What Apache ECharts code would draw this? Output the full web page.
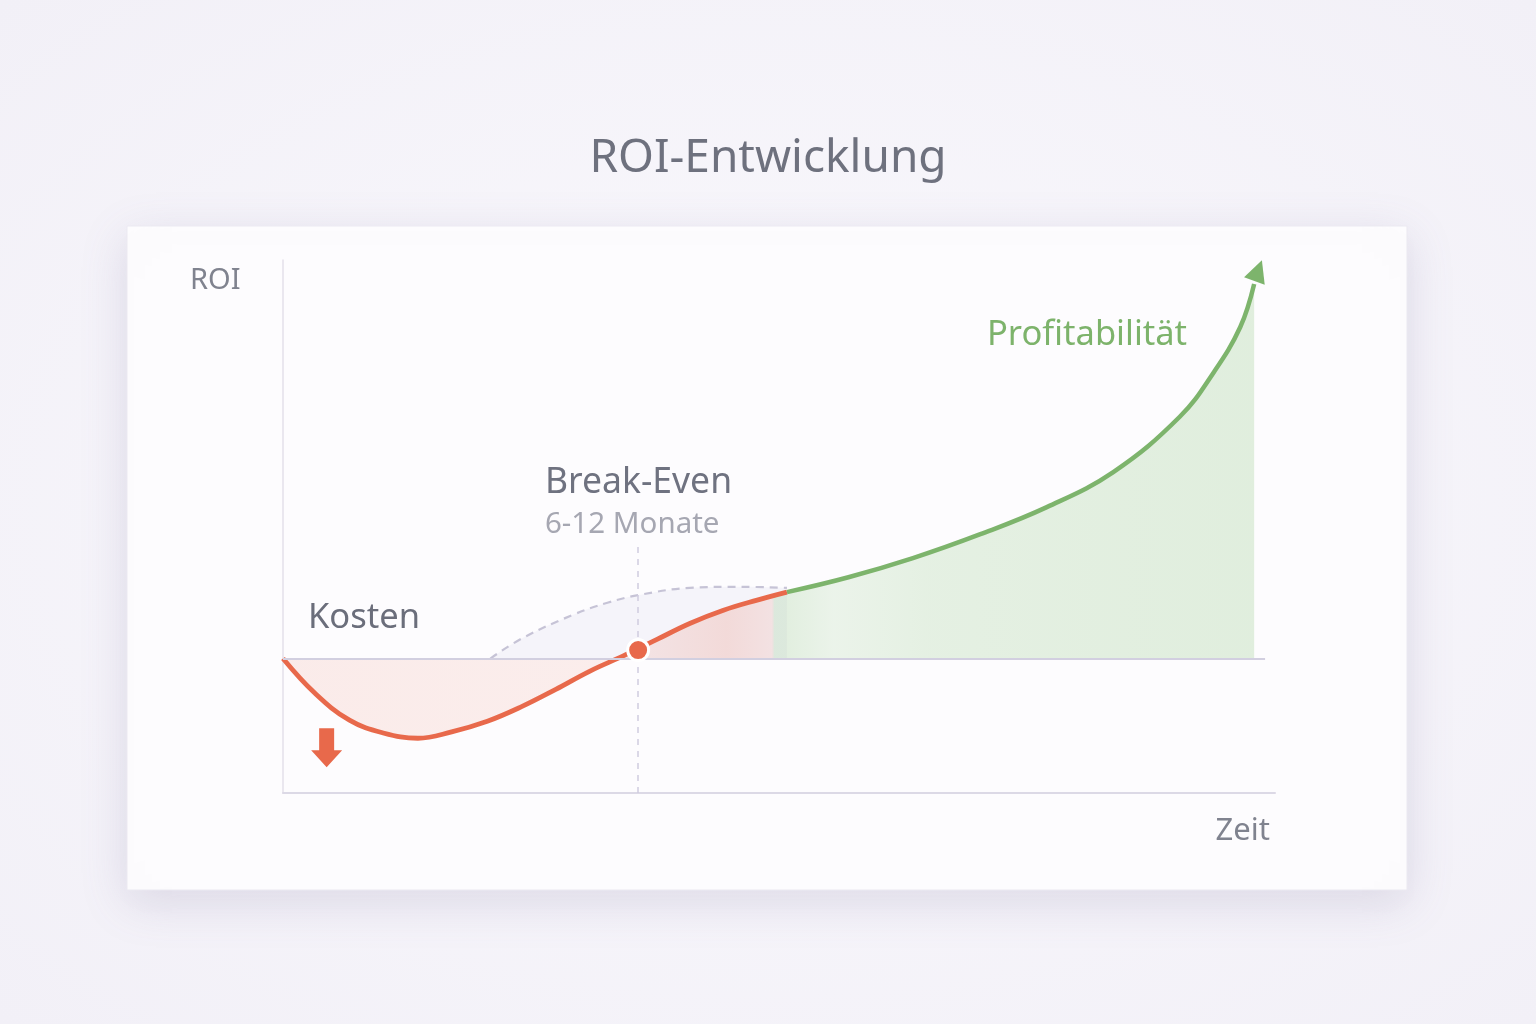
<!DOCTYPE html>
<html>
<head>
<meta charset="utf-8">
<title>ROI-Entwicklung</title>
<script src="https://cdn.jsdelivr.net/npm/echarts@6/dist/echarts.min.js"></script>
<style>
    html, body {
        margin: 0;
        padding: 0;
        width: 1536px;
        height: 1024px;
        background: radial-gradient(ellipse at center, #faf9fd 0%, #f2f0f7 100%);
    }
    #roi {
        width: 1536px;
        height: 1024px;
    }
</style>
</head>
<body>
<div id="roi"></div>
<script>
// Zeitachse 0..100, ROI-Achse -25.3..75
var kostenX = [0, 3.2, 6.7, 10.1, 13.6, 17.0, 20.6, 24.0, 27.5, 30.9, 34.3, 37.7, 41.0, 44.4, 47.8, 50.8];
var kostenY = [0, -6.5, -11.6, -14.0, -15.0, -13.8, -11.8, -9.1, -5.8, -2.4, 0.5, 3.6, 6.6, 9.1, 11.0, 12.5];

var profitX = [50.8, 57.0, 63.5, 70.3, 77.0, 83.7, 90.4, 93.8, 96.5, 97.9];
var profitY = [12.5, 15.3, 18.9, 23.4, 28.5, 35.1, 45.5, 53.8, 62.4, 70.5];

var planX = [20.9, 24.2, 29.2, 32.7, 36.0, 41.0, 46.1, 50.8];
var planY = [0, 3.9, 8.2, 10.5, 12.0, 13.3, 13.5, 13.3];

var breakEven = [35.8, 1.6];
var pfeilUnten = [4.4, -16.8];
var pfeilOben = [98.3, 73.0];

function toPairs(xs, ys) {
    var i = 0;
    var pairs = [];
    for (i = 0; i < xs.length; i++) {
        pairs.push([xs[i], ys[i]]);
    }
    return pairs;
}

function hGradient(stops) {
    return new echarts.graphic.LinearGradient(0, 0, 1, 0, stops);
}

function showRoiChart() {
    var roi = document.getElementById("roi");
    var roiChart = echarts.init(roi);
    var font = '"Noto Sans", "Open Sans", sans-serif';
    roiOptions = {
        animation: false,
        title: {
            text: 'ROI-Entwicklung',
            left: 'center',
            top: 131,
            textStyle: {
                fontFamily: font,
                fontSize: 46,
                fontWeight: 'normal',
                color: '#6e717e'
            }
        },
        grid: {
            left: 283,
            right: 261,
            top: 260,
            bottom: 231
        },
        xAxis: {
            type: 'value',
            min: 0,
            max: 100,
            axisLine: {
                onZero: false,
                lineStyle: { color: '#dcd9e6', width: 2 }
            },
            axisTick: { show: false },
            axisLabel: { show: false },
            splitLine: { show: false }
        },
        yAxis: {
            type: 'value',
            min: -25.3,
            max: 75,
            axisLine: {
                show: true,
                onZero: false,
                lineStyle: { color: '#e3e0ea', width: 1.5 }
            },
            axisTick: { show: false },
            axisLabel: { show: false },
            splitLine: { show: false }
        },
        graphic: [
            {
                // Karte
                type: 'rect',
                z: -10,
                shape: { x: 127, y: 226, width: 1280, height: 664 },
                style: {
                    fill: '#fdfcfe',
                    stroke: '#ebe9f1',
                    lineWidth: 1,
                    shadowBlur: 44,
                    shadowOffsetY: 12,
                    shadowColor: 'rgba(110, 100, 150, 0.18)'
                }
            },
            {
                type: 'text', z: 100, left: 190, top: 266,
                style: { text: 'ROI', font: '29px ' + font, fill: '#80838f' }
            },
            {
                type: 'text', z: 100, right: 266, top: 816,
                style: { text: 'Zeit', font: '31px ' + font, fill: '#80838f' }
            },
            {
                type: 'text', z: 100, left: 308, top: 601,
                style: { text: 'Kosten', font: '34.5px ' + font, fill: '#6b6e7b' }
            },
            {
                type: 'text', z: 100, left: 545, top: 465,
                style: { text: 'Break-Even', font: '35.5px ' + font, fill: '#6f7280' }
            },
            {
                type: 'text', z: 100, left: 545, top: 510,
                style: { text: '6-12 Monate', font: '29.5px ' + font, fill: '#a6a7b2' }
            },
            {
                type: 'text', z: 100, left: 987, top: 318,
                style: { text: 'Profitabilität', font: '34.5px ' + font, fill: '#7db36b' }
            }
        ],
        series: [
            {
                // geplanter Verlauf, gestrichelt
                name: 'Plan',
                type: 'line',
                smooth: 0.4,
                showSymbol: false,
                z: 1,
                data: toPairs(planX, planY),
                lineStyle: { color: '#c6c3d6', width: 2.2, type: [8, 6] },
                areaStyle: { origin: 'auto', color: 'rgba(205, 200, 228, 0.22)' }
            },
            {
                name: 'Kosten',
                type: 'line',
                smooth: 0.4,
                showSymbol: false,
                z: 3,
                data: toPairs(kostenX, kostenY),
                lineStyle: { color: '#e8694b', width: 4.8 },
                areaStyle: {
                    origin: 'auto',
                    color: hGradient([
                        { offset: 0, color: 'rgba(232, 110, 80, 0.17)' },
                        { offset: 0.65, color: 'rgba(232, 110, 80, 0.15)' },
                        { offset: 0.88, color: 'rgba(232, 110, 80, 0.28)' },
                        { offset: 0.97, color: 'rgba(232, 110, 80, 0.2)' },
                        { offset: 0.975, color: 'rgba(125, 190, 110, 0.3)' },
                        { offset: 1, color: 'rgba(125, 190, 110, 0.3)' }
                    ])
                },
                markLine: {
                    silent: true,
                    symbol: 'none',
                    label: { show: false },
                    data: [
                        [
                            { coord: [0, 0], lineStyle: { color: '#d2cfe0', width: 2, type: 'solid' } },
                            { coord: [99, 0] }
                        ],
                        [
                            { coord: [breakEven[0], 21], lineStyle: { color: '#cfcce0', width: 1.5, type: [6, 6] } },
                            { coord: [breakEven[0], -25.3] }
                        ]
                    ]
                }
            },
            {
                name: 'Profitabilität',
                type: 'line',
                smooth: 0.4,
                showSymbol: false,
                clip: false,
                z: 3,
                data: toPairs(profitX, profitY),
                lineStyle: { color: '#7db46c', width: 4.5 },
                areaStyle: {
                    origin: 'auto',
                    color: hGradient([
                        { offset: 0, color: 'rgba(125, 190, 110, 0.3)' },
                        { offset: 0.1, color: 'rgba(125, 190, 110, 0.2)' },
                        { offset: 0.3, color: 'rgba(125, 190, 110, 0.27)' },
                        { offset: 1, color: 'rgba(125, 190, 110, 0.32)' }
                    ])
                }
            },
            {
                // Marker: Break-Even-Punkt und Pfeile
                name: 'Marker',
                type: 'scatter',
                clip: false,
                z: 5,
                data: [
                    {
                        value: breakEven,
                        symbol: 'circle',
                        symbolSize: 21,
                        itemStyle: { color: '#e8694b', borderColor: '#ffffff', borderWidth: 3, opacity: 1 }
                    },
                    {
                        value: pfeilUnten,
                        symbol: 'path://M8,0 L23,0 L23,22 L31,22 L15.5,39 L0,22 L8,22 Z',
                        symbolSize: [31, 39],
                        itemStyle: { color: '#e8694b', opacity: 1 }
                    },
                    {
                        value: pfeilOben,
                        symbol: 'triangle',
                        symbolSize: [22, 22],
                        symbolRotate: -20,
                        itemStyle: { color: '#7db46c', opacity: 1 }
                    }
                ]
            }
        ]
    };
    roiChart.setOption(roiOptions);
}

showRoiChart();
</script>
</body>
</html>
